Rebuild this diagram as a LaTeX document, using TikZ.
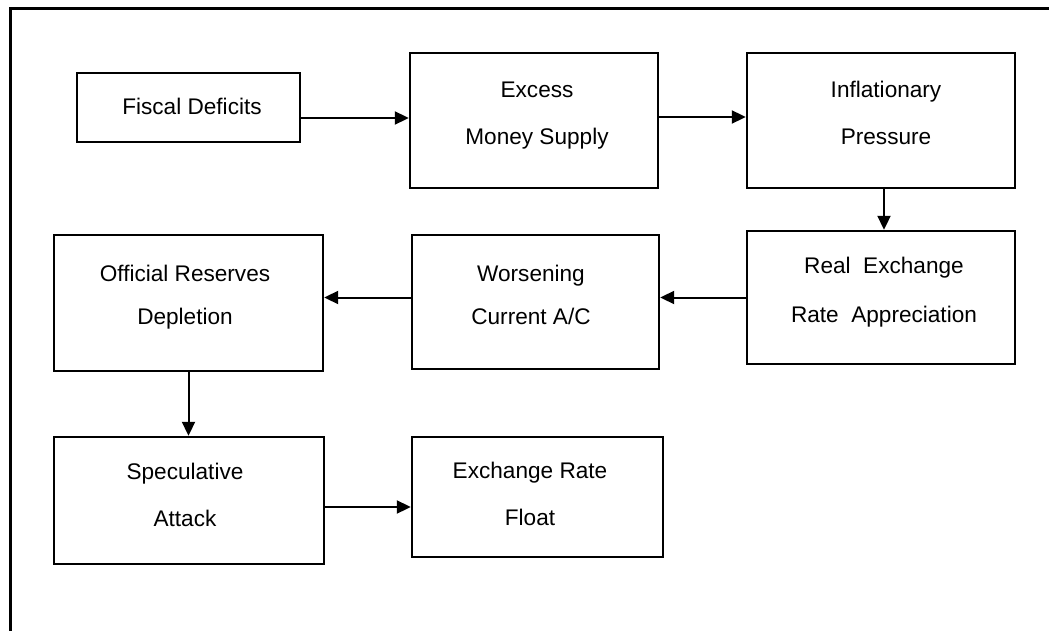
\documentclass[tikz,border=0pt]{standalone}
\usepackage{fontspec}
\setmainfont{Liberation Sans}
\usetikzlibrary{arrows.meta}
\begin{document}
\begin{tikzpicture}[x=1pt,y=-1pt,
  box/.style={draw=black,line width=2.4pt,inner sep=0pt,rectangle},
  txt/.style={inner sep=0pt,anchor=base,align=center,text=black},
  lineskipA/.style={font=\fontsize{22.6}{47}\selectfont},
  lineskipB/.style={font=\fontsize{22.6}{43}\selectfont},
  lineskipC/.style={font=\fontsize{22.6}{49}\selectfont},
  arr/.style={line width=2pt,-{Triangle[length=14pt,width=13pt]}},
  frame/.style={line width=3pt,line cap=rect}]
\useasboundingbox (0,0) rectangle (1057,631);
% frame (left and top edges only)
\coordinate (fbl) at (10,631);
\coordinate (ftl) at (10,9);
\coordinate (ftr) at (1047,9);
\draw[frame] (fbl) -- (ftl) -- (ftr);
% boxes
\node[box,minimum width=223pt,minimum height=69pt]  (fd)  at (188.5,107.5) {};
\node[box,minimum width=248pt,minimum height=135pt] (ems) at (534,120.5) {};
\node[box,minimum width=268pt,minimum height=135pt] (ip)  at (881,120.5) {};
\node[box,minimum width=268pt,minimum height=133pt] (rer) at (881,297.5) {};
\node[box,minimum width=247pt,minimum height=134pt] (wca) at (535.5,302) {};
\node[box,minimum width=269pt,minimum height=136pt] (ord) at (188.5,303) {};
\node[box,minimum width=270pt,minimum height=127pt] (sa)  at (189,500.5) {};
\node[box,minimum width=251pt,minimum height=120pt] (erf) at (537.5,497) {};
% texts (anchor base = baseline of the last line)
\node[txt,lineskipA] (fdt)  at (192,115)   {Fiscal Deficits};
\node[txt,lineskipA] (emst) at (537,144.5) {Excess\\Money Supply};
\node[txt,lineskipA] (ipt)  at (886,144.5) {Inflationary\\Pressure};
\node[txt,lineskipC] (rert) at (884,322.5) {Real\ \ Exchange\\Rate\ \ Appreciation};
\node[txt,lineskipB] (wcat) at (531,324.5) {Worsening\\Current A/C};
\node[txt,lineskipB] (ordt) at (185,324.5) {Official Reserves\\Depletion};
\node[txt,lineskipA] (sat)  at (185,526.5) {Speculative\\Attack};
\node[txt,lineskipA] (erft) at (530,525.5) {Exchange Rate\\Float};
% connectors
\coordinate (p1) at ([yshift=-10.5pt]fd.east);
\draw[arr] (p1) -- (p1 -| ems.west);
\coordinate (p2) at ([yshift=3.5pt]ems.east);
\draw[arr] (p2) -- (p2 -| ip.west);
\draw[arr] ([xshift=3pt]ip.south) -- ([xshift=3pt]rer.north);
\draw[arr] (rer.west) -- (rer.west -| wca.east);
\coordinate (p3) at (rer.west -| wca.west);
\draw[arr] (p3) -- (p3 -| ord.east);
\draw[arr] (ord.south) -- (ord.south |- sa.north);
\coordinate (p4) at ([yshift=-6.5pt]sa.east);
\draw[arr] (p4) -- (p4 -| erf.west);
\end{tikzpicture}
\end{document}
